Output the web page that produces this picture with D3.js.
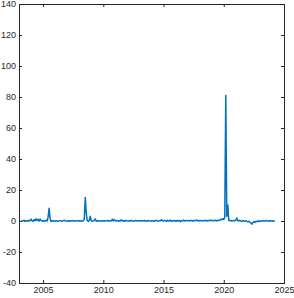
<script src="https://cdn.jsdelivr.net/npm/d3@7"></script>
<style>
  body { margin: 0; background: #fff; }
  svg text { font-family: "Liberation Sans", Arial, sans-serif; }
</style>
<div id="chart"></div>
<script>
// monthly series, first point March 2003
var startYear = 2003, startMonth = 3;
var values = [
  /* 2003 */ 0.3, -0.2, 0.1, 0.5, -0.3, 0.2, 0.0, 0.4, -0.1, 0.3,
  /* 2004 */ 1.2, 0.1, -0.2, 0.9, 0.2, 1.4, 0.3, 1.1, 0.0, 1.3, 0.2, -0.1,
  /* 2005 */ 0.3, -0.2, 0.1, 0.4, 0.0, 2.5, 8.2, 1.5, -0.3, 0.2, 0.0, 0.1,
  /* 2006 */ -0.1, 0.2, 0.0, -0.2, 0.1, 0.3, -0.1, 0.0, 0.2, 0.5, 0.1, -0.1,
  /* 2007 */ 0.0, 0.1, -0.2, 0.2, 0.0, 0.1, 0.3, -0.1, 0.0, 0.2, 0.1, 0.0,
  /* 2008 */ 0.1, 0.0, 0.2, -0.1, 0.1, 1.0, 15.2, 5.0, 0.2, -0.3, 0.5, 3.0,
  /* 2009 */ 0.2, -0.2, 0.1, 0.3, 1.4, 0.1, -0.2, 0.2, 0.0, 0.1, -0.1, 0.2,
  /* 2010 */ 0.0, 0.2, -0.1, 0.1, 0.3, 0.0, 0.2, -0.1, 0.1, 1.2, 0.0, 0.9,
  /* 2011 */ 0.1, 0.0, 0.3, -0.1, 0.2, 0.0, 0.8, 0.1, -0.2, 0.2, 0.0, 0.3,
  /* 2012 */ 0.1, -0.1, 0.2, 0.0, 0.4, 0.1, -0.2, 0.1, 0.3, 0.0, 0.2, 0.1,
  /* 2013 */ 0.0, 0.3, -0.1, 0.2, 0.1, 0.4, -0.2, 0.1, 0.0, 0.3, 0.1, -0.1,
  /* 2014 */ 0.2, 0.0, 0.1, -0.3, 0.2, 0.5, 0.0, -0.1, 0.2, 0.1, 0.9, 0.2,
  /* 2015 */ 0.0, 0.3, 0.1, -0.2, 0.4, 0.0, 0.2, 0.6, -0.3, 0.1, 0.3, 0.0,
  /* 2016 */ 0.2, -0.1, 0.5, 0.0, 0.3, -0.4, 0.2, 0.1, 0.6, 0.0, 0.2, 0.4,
  /* 2017 */ 0.1, 0.3, 0.0, 0.5, 0.2, -0.1, 0.4, 0.1, 0.3, 0.7, 0.0, 0.2,
  /* 2018 */ 0.3, 0.1, 0.4, 0.0, 0.2, 0.5, 0.1, 0.3, 0.0, 0.4, 0.2, 0.6,
  /* 2019 */ 0.2, 0.4, 0.1, 0.5, 0.3, 0.0, 0.6, 0.2, 0.4, 1.2, 0.8, 1.5,
  /* 2020 */ 1.0, 2.5, 81.0, 3.0, 10.3, 0.5, 0.2, 0.3, 0.0, 0.1, 0.4, 0.2,
  /* 2021 */ 0.3, 2.0, 0.2, 0.0, 0.4, 0.1, -0.2, 0.3, 0.0, -0.1, 0.2, -0.3,
  /* 2022 */ -0.5, -0.2, -0.8, -1.2, -2.0, -1.0, -0.4, -0.9, -0.2, -0.5, 0.1, -0.3,
  /* 2023 */ 0.0, -0.2, 0.1, 0.2, -0.1, 0.0, 0.3, 0.1, -0.1, 0.2, 0.0, 0.1,
  /* 2024 */ 0.0, 0.2, -0.1, 0.1
];
var xTicks = [2005, 2010, 2015, 2020, 2025];
var yTicks = [-40, -20, 0, 20, 40, 60, 80, 100, 120, 140];

var W = 294, H = 298;
var margin = {top: 4, right: 10, bottom: 15, left: 19},
    width = W - margin.left - margin.right,
    height = H - margin.top - margin.bottom;

var svg = d3.select("#chart").append("svg")
    .attr("width", W).attr("height", H)
  .append("g")
    .attr("transform", "translate(" + margin.left + "," + margin.top + ")");

var x = d3.scaleLinear().domain([2003, 2025]).range([0, width]);
var y = d3.scaleLinear().domain([-40, 140]).range([height, 0]);

var data = values.map(function(v, i) {
  return {t: startYear + (startMonth - 1 + i) / 12, v: v};
});

function styleAxis(g) {
  g.select(".domain").remove();
  g.selectAll("line").attr("stroke", "#262626");
  g.selectAll("text").attr("fill", "#262626").style("font-size", "9px");
}
function plain(d) { return String(d); }

svg.append("g").attr("transform", "translate(0," + height + ")")
  .call(d3.axisBottom(x).tickValues(xTicks).tickFormat(plain).tickSize(-3).tickPadding(4))
  .call(styleAxis);
svg.append("g")
  .call(d3.axisTop(x).tickValues(xTicks).tickFormat("").tickSize(-3))
  .call(styleAxis);
svg.append("g")
  .call(d3.axisLeft(y).tickValues(yTicks).tickFormat(plain).tickSize(-3).tickPadding(3))
  .call(styleAxis);
svg.append("g").attr("transform", "translate(" + width + ",0)")
  .call(d3.axisRight(y).tickValues(yTicks).tickFormat("").tickSize(-3))
  .call(styleAxis);

svg.append("rect")
  .attr("x", 0.5).attr("y", 0.5)
  .attr("width", width).attr("height", height)
  .attr("fill", "none").attr("stroke", "#262626").attr("stroke-width", 1);

svg.append("path")
  .datum(data)
  .attr("fill", "none")
  .attr("stroke", "#0072BD")
  .attr("stroke-width", 1.5)
  .attr("stroke-linejoin", "round")
  .attr("d", d3.line().x(function(d) { return x(d.t); }).y(function(d) { return y(d.v); }));
</script>
